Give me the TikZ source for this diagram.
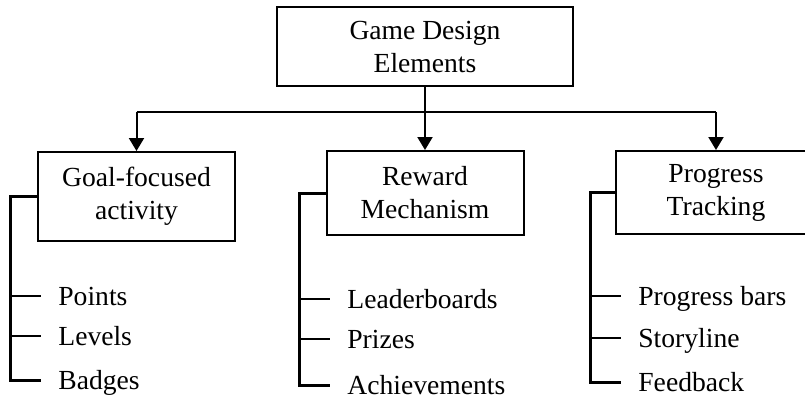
\documentclass[tikz,border=0pt]{standalone}
\usepackage{fontspec}
\setmainfont{Liberation Serif}
\usetikzlibrary{arrows.meta,positioning}

\begin{document}
\begin{tikzpicture}[x=0.5pt,y=-0.5pt,
    font=\fontsize{13.8}{16.5}\selectfont,
    elem/.style={draw,line width=1pt,align=center,inner sep=0pt},
    link/.style={line width=1pt,-{Triangle[length=6.5pt,width=7.5pt]}},
    branch/.style={line width=1.5pt},
    twig/.style={line width=1pt},
    item/.style={anchor=base west,inner sep=0pt}]
 \useasboundingbox (0,0) rectangle (805,403);
 \clip (0,0) rectangle (805,403);
 \node[elem,minimum width=148pt,minimum height=39.5pt] (GDE) at (425,46.5) {Game Design\\Elements};
 \node[elem,minimum width=98.5pt,minimum height=44.5pt] (GFA) at (136.5,196.5) {Goal-focused\\activity};
 \node[elem,minimum width=98.5pt,minimum height=42pt] (RM) at (425,193) {Reward\\Mechanism};
 \node[elem,minimum width=100pt,minimum height=41.5pt] (PT) at (716,192.5) {Progress\\Tracking};
 \coordinate (bar) at (425,112);
 \draw[line width=1pt] (GDE.south) -- (GDE.south |- bar);
 \draw[line width=1pt] (GFA.north |- bar) -- (PT.north |- bar);
 \foreach \b in {GFA,RM,PT} \draw[link] (\b.north |- bar) -- (\b.north);
 % sub-items of each element
 \foreach \b/\xv/\ya/\yb/\yc/\la/\lb/\lc in {%
   GFA/10/296/336/380/Points/Levels/Badges,
   RM/299/299/339/385/Leaderboards/Prizes/Achievements,
   PT/590/296/338/382/Progress bars/Storyline/Feedback} {
  \node[item] (\b-a) at (\xv+48,\ya+9) {\la};
  \node[item] (\b-b) at (\xv+48,\yb+9) {\lb};
  \node[item] (\b-c) at (\xv+48,\yc+9) {\lc};
  \draw[branch] (\b.west) -| (\xv,\yc) -- ++(31,0);
  \draw[twig] (\xv,\ya) -- ++(31,0);
  \draw[twig] (\xv,\yb) -- ++(31,0);
 }
\end{tikzpicture}
\end{document}
